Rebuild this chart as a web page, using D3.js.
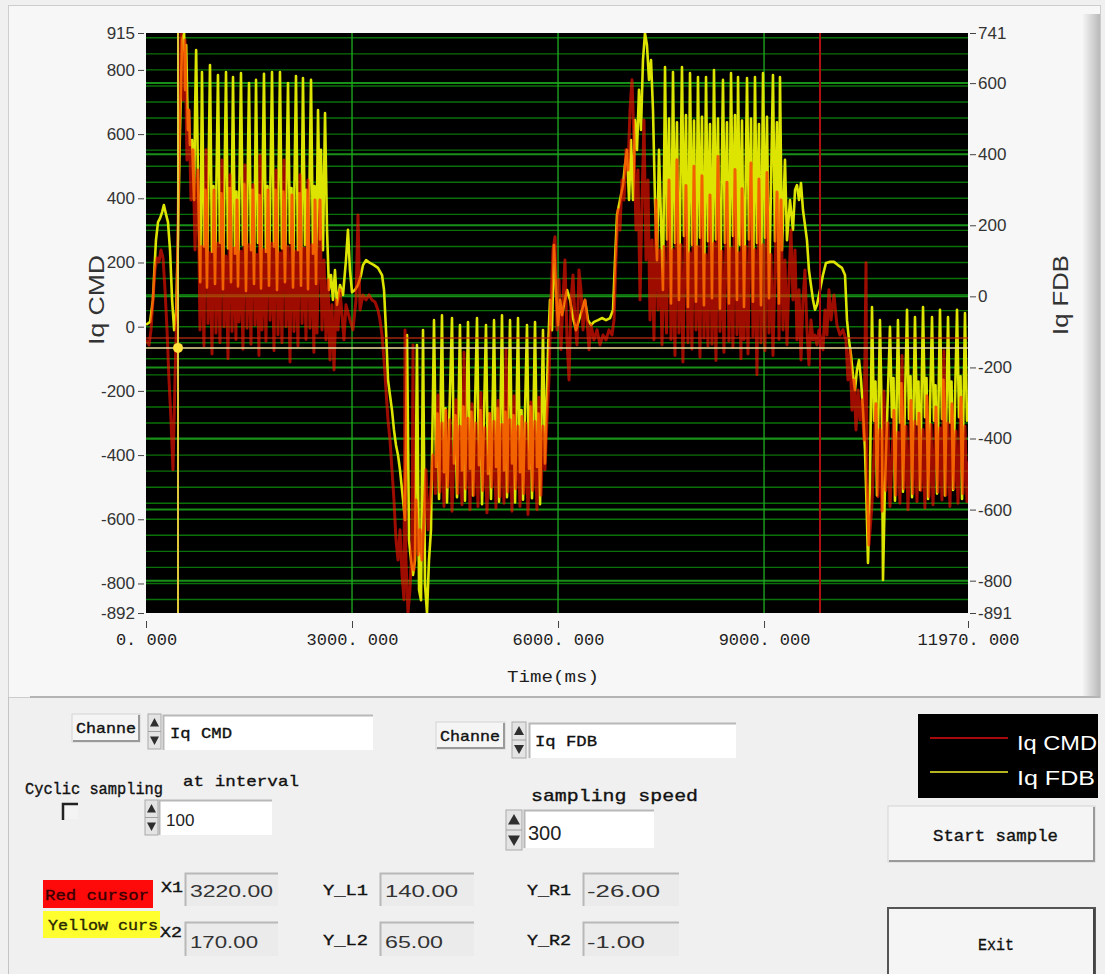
<!DOCTYPE html>
<html>
<head>
<meta charset="utf-8">
<script src="https://cdn.jsdelivr.net/npm/d3@7"></script>
<style>
body { margin: 0; background: #f0f0f0; }
svg { display: block; }
</style>
</head>
<body>
<svg id="plot" width="1105" height="974"></svg>
<script>
// ---- data ----
let leftTicks = [915, 800, 600, 400, 200, 0, -200, -400, -600, -800, -892];
let rightTicks = [741, 600, 400, 200, 0, -200, -400, -600, -800, -891];
let timeTicks = [0, 3000, 6000, 9000, 11970];
let seriesNames = ["Iq CMD", "Iq FDB"];

// [time ms, value] Iq CMD on left axis
let iqCmd = [
[0,-41],[44,-57],[73,-10],[102,83],[131,177],[160,214],[189,202],[218,239],[248,214],[277,115],[306,-10],[335,-166],[364,-291],[393,-446],[422,-166],[451,83],[480,551],[510,915],[539,706],[568,893],[597,519],[626,675],[655,395],[684,551],[714,239],[743,457],
[757,488],[786,-10],[815,250],[844,-60],[874,551],[903,10],[932,230],[961,-85],[990,426],[1019,-20],[1048,260],[1077,-50],[1107,519],[1136,0],[1165,220],[1194,-100],[1223,473],[1252,-15],[1281,245],[1310,-40],[1325,395],[1354,15],[1383,235],[1412,-70],[1442,504],[1471,-5],[1500,255],[1529,-55],[1558,442],[1587,5],[1616,225],[1645,-90],[1660,535],[1689,-10],[1718,240],[1747,-45],[1777,426],[1806,20],[1835,260],[1864,-75],[1893,488],[1922,-25],[1951,230],[1980,-50],[2010,519],[2039,0],[2068,250],[2097,-110],[2126,410],[2155,-15],[2184,235],[2213,-60],[2243,473],[2272,10],[2301,245],[2330,-40],[2358,457],[2387,-5],[2416,255],[2445,-80],[2461,395],[2490,-20],[2519,260],
[2534,395],[2563,-10],[2592,208],[2621,-41],[2650,146],[2679,-104],[2708,68],[2738,-135],[2767,83],[2796,-10],[2825,115],[2854,37],[2883,-41],[2912,68],[2970,21],[3014,-10],[3058,83],[3087,348],[3116,52],[3160,99],[3204,83],[3247,99],[3291,83],[3335,77],[3378,52],[3407,21],[3437,-26],[3466,-104],[3495,-197],[3524,-291],[3553,-353],[3582,-446],[3611,-540],[3640,-664],[3670,-727],[3699,-633],[3728,-773],[3757,-851],[3772,-10],[3786,-727],[3815,-892],[3844,-820],[3874,-664],[3888,-57],[3903,-758],[3932,-540],[3961,-711],[3990,-633],[4019,-727],[4048,-602],[4077,-446],[4107,-633],[4136,-540],[4180,-400],[4215,-520],
[4252,-213],[4281,-515],[4310,-300],[4339,-560],[4369,-260],[4398,-500],[4427,-290],[4456,-575],[4514,-228],[4543,-520],[4572,-310],[4601,-555],[4631,-80],[4660,-505],[4689,-285],[4718,-570],[4747,-240],[4776,-525],[4805,-300],[4834,-560],[4878,-205],[4907,-510],[4936,-315],[4965,-580],[5009,-270],[5038,-500],[5067,-295],[5096,-565],[5126,-230],[5155,-530],[5184,-305],[5213,-550],[5242,-70],[5271,-515],[5300,-290],[5329,-575],[5359,-215],[5388,-505],[5417,-310],[5446,-560],[5475,-280],[5504,-520],[5533,-300],[5562,-585],[5606,-235],[5635,-510],[5664,-295],[5693,-570],[5723,-220],[5752,-525],[5781,-310],[5810,-446],
[5839,-291],[5868,-166],[5897,83],[5927,239],[5956,280],[5985,-10],[6014,146],[6043,-72],[6072,83],[6101,208],[6131,-41],[6160,-166],[6189,83],[6218,161],[6247,21],[6276,-57],[6305,177],[6334,115],[6364,-10],[6393,83],[6422,21],[6451,-72],[6480,5],[6524,-41],[6568,-10],[6611,-57],[6655,-26],[6699,-41],[6742,-10],[6786,-26],[6815,21],[6844,208],[6873,364],[6902,301],[6931,457],[6961,395],[6990,551],[7019,488],[7048,675],[7077,769],[7106,582],[7135,301],[7164,488],[7194,83],
[7223,395],[7252,644],[7281,208],[7310,457],[7339,21],[7368,270],[7397,-41],[7426,395],[7456,52],[7485,239],[7514,-57],[7545,250],[7580,-20],
[7616,457],[7645,-40],[7674,240],[7703,-90],[7732,520],[7761,-20],[7790,255],[7819,-110],[7863,440],[7892,-50],[7921,230],[7950,-70],[7980,500],[8009,-10],[8038,250],[8067,-95],[8096,470],[8125,-35],[8154,225],[8183,-60],[8213,410],[8242,-55],[8271,260],[8300,-105],[8329,530],[8358,-15],[8387,235],[8416,-80],[8460,450],[8489,-45],[8518,245],[8547,-65],[8577,490],[8606,-25],[8635,230],[8664,-100],[8679,430],[8708,-40],[8737,250],[8766,-85],[8810,510],[8839,-30],[8868,240],[8897,-150],[8926,460],[8955,-50],[8984,255],[9013,-75],[9043,480],[9072,-20],[9101,225],[9130,-90],[9189,420],[9218,-40],
[9247,395],[9276,-10],[9305,208],[9334,-57],[9363,146],[9392,301],[9421,83],[9451,239],[9480,-41],[9509,115],[9538,-104],[9567,83],[9596,177],[9625,-10],[9654,-119],[9683,21],[9713,-41],[9742,-26],[9771,-57],[9800,-10],[9829,-41],[9858,-72],[9887,52],[9916,-26],[9945,115],[9975,21],[10018,99],[10062,5],[10106,-26],[10149,-10],[10193,-41],[10222,-166],[10251,-72],[10281,-260],[10310,-166],[10339,-322],[10368,-197],[10397,-291],[10426,-228],[10455,-353],[10485,199],[10499,-477],[10528,-680],[10570,-560],[10600,-400],
[10630,-240],[10659,-530],[10688,-320],[10717,-575],[10747,-200],[10776,-510],[10805,-300],[10834,-560],[10892,-260],[10921,-525],[10950,-330],[10979,-550],[11009,-90],[11038,-505],[11067,-310],[11096,-570],[11140,-230],[11169,-520],[11198,-295],[11227,-545],[11256,-270],[11285,-510],[11314,-320],[11343,-565],[11373,-215],[11402,-530],[11431,-305],[11460,-555],[11504,-250],[11533,-515],[11562,-315],[11591,-540],[11620,-75],[11649,-525],[11678,-300],[11707,-560],[11737,-240],[11766,-505],[11795,-325],[11824,-550],[11868,-220],[11897,-520],[11926,-310],[11955,-545],[11970,-420]
];

// [time ms, value] Iq FDB on right axis
let iqFdb = [
[0,-80],[60,-72],[100,-10],[145,158],[175,209],[205,220],[235,237],[260,257],[290,232],[320,209],[350,130],[380,-10],[410,-95],[440,-38],[465,158],[495,468],[525,721],[555,741],[570,581],[585,707],[610,468],[625,524],[640,426],[670,440],[700,271],[715,524],[730,693],[760,300],[790,40],
[815,631],[845,140],[866,300],[888,25],[932,651],[961,125],[983,310],[1005,35],[1048,623],[1077,150],[1099,290],[1121,20],[1165,631],[1194,135],[1216,305],[1238,40],[1267,617],[1296,120],[1318,295],[1340,28],[1383,628],[1412,145],[1434,315],[1456,15],[1500,600],[1529,130],[1551,300],[1573,35],[1602,609],[1631,150],[1653,285],[1675,22],[1718,626],[1747,125],[1769,310],[1791,30],[1835,631],[1864,140],[1886,300],[1908,18],[1951,631],[1980,135],[2002,295],[2024,40],[2068,600],[2097,150],[2119,305],[2141,25],[2184,620],[2213,130],[2235,290],[2257,30],[2286,614],[2315,145],[2337,300],[2359,20],[2403,609],[2432,120],[2454,310],[2476,35],[2505,524],[2534,160],
[2548,412],[2577,130],[2607,516],[2636,187],[2665,18],[2694,60],[2723,-10],[2752,74],[2781,-24],[2825,32],[2869,4],[2912,102],[2941,187],[2970,74],[3000,12],[3043,18],[3087,32],[3131,60],[3160,88],[3204,102],[3262,94],[3320,88],[3378,80],[3437,60],[3466,18],[3495,-95],[3524,-235],[3553,-278],[3582,-320],[3611,-376],[3640,-418],[3670,-447],[3699,-489],[3743,-573],[3772,-629],[3801,-109],[3830,-686],[3859,-742],[3888,-784],[3917,-742],[3946,-137],[3976,-826],[4005,-855],[4034,-95],[4063,-812],[4092,-891],[4121,-742],[4150,-657],
[4194,-67],[4223,-480],[4245,-330],[4267,-570],[4310,-53],[4339,-495],[4361,-315],[4383,-580],[4456,-61],[4485,-470],[4507,-335],[4529,-565],[4572,-81],[4601,-490],[4623,-310],[4645,-575],[4689,-72],[4718,-485],[4740,-325],[4762,-560],[4820,-61],[4849,-475],[4871,-320],[4893,-585],[4951,-81],[4980,-500],[5002,-330],[5024,-570],[5068,-67],[5097,-480],[5119,-315],[5141,-578],[5184,-53],[5213,-490],[5235,-325],[5257,-565],[5301,-67],[5330,-470],[5352,-335],[5374,-580],[5417,-61],[5446,-495],[5468,-320],[5490,-572],[5548,-81],[5577,-485],[5599,-310],[5621,-568],[5665,-72],[5694,-480],[5716,-330],[5738,-585],[5781,-95],[5810,-470],
[5854,-151],[5883,-10],[5912,-95],[5941,144],[5970,18],[6000,-81],[6029,-10],[6058,-53],[6087,-24],[6131,18],[6175,-10],[6218,-61],[6262,-95],[6305,-67],[6349,-38],[6393,-10],[6437,-67],[6480,-81],[6524,-72],[6582,-67],[6640,-61],[6699,-67],[6757,-61],[6801,-38],[6830,102],[6859,229],[6888,257],[6917,285],[6946,313],[6975,370],[7004,412],[7034,271],[7063,440],[7092,271],[7121,496],
[7150,412],[7179,581],[7208,468],[7237,665],[7266,741],[7295,707],[7325,609],[7354,665],[7383,524],[7412,271],[7441,102],[7470,412],[7499,215],[7528,18],
[7558,645],[7587,160],[7616,500],[7645,-20],[7674,631],[7703,150],[7732,490],[7761,-10],[7805,645],[7834,170],[7863,510],[7892,-30],[7922,628],[7951,145],[7980,495],[8009,-15],[8038,617],[8067,165],[8096,505],[8125,-25],[8155,617],[8184,155],[8213,485],[8242,-5],[8271,637],[8300,160],[8329,500],[8358,-35],[8402,609],[8431,150],[8460,490],[8489,-20],[8519,628],[8548,170],[8577,510],[8606,-10],[8621,617],[8650,145],[8679,495],[8708,-30],[8752,614],[8781,160],[8810,500],[8839,-15],[8868,617],[8897,150],[8926,485],[8955,-25],[8985,628],[9014,165],[9043,505],[9072,-5],[9130,623],[9159,155],[9188,490],[9217,-20],[9232,617],[9261,130],
[9305,384],[9334,158],[9378,271],[9421,187],[9451,299],[9480,313],[9509,271],[9538,319],[9567,243],[9596,201],[9625,158],[9654,74],[9683,32],[9713,-10],[9742,-38],[9771,-24],[9815,18],[9858,60],[9902,94],[9960,97],[10018,97],[10076,88],[10135,80],[10179,60],[10208,-67],[10237,-123],[10266,-165],[10295,-221],[10324,-264],[10353,-207],[10383,-179],[10412,-235],[10441,-320],[10470,-432],[10499,-629],[10514,-750],[10543,-517],
[10572,-30],[10601,-350],[10623,-240],[10645,-560],[10688,-67],[10717,-360],[10732,-798],[10760,-540],[10834,-86],[10863,-340],[10885,-230],[10907,-575],[10950,-67],[10979,-355],[11001,-245],[11023,-550],[11082,-38],[11111,-345],[11133,-225],[11155,-565],[11198,-58],[11227,-360],[11249,-240],[11271,-545],[11315,-30],[11344,-340],[11366,-230],[11388,-570],[11446,-58],[11475,-350],[11497,-250],[11519,-555],[11562,-38],[11591,-345],[11613,-235],[11635,-560],[11679,-58],[11708,-355],[11730,-240],[11752,-545],[11810,-38],[11839,-340],[11861,-225],[11883,-570],[11926,-47],[11955,-350],[11970,-300]
];

// cursors: [time ms, left-axis value]
let redCursor = [9815, -35];
let yellowCursor = [466, -66];

// readout panel values
let channelNames = ["Iq CMD", "Iq FDB"];
let intervalValue = "100";
let speedValue = "300";
let xReadouts = ["3220.00", "170.00"];
let yLeftReadouts = ["140.00", "65.00"];
let yRightReadouts = ["-26.00", "-1.00"];

let svg = d3.select("#plot");

let plot_left = 146, plot_right = 968, plot_top = 33, plot_bottom = 613;
let mono = "Liberation Mono, DejaVu Sans Mono, monospace";
let sans = "Liberation Sans, Arial, sans-serif";

let x_scale = d3.scaleLinear([0, 11970], [plot_left, plot_right]);
let yl_scale = d3.scaleLinear([-892, 915], [plot_bottom, plot_top]);
let yr_scale = d3.scaleLinear([-891, 741], [plot_bottom, plot_top]);

let defs = svg.append("defs");
defs.append("clipPath").attr("id", "clip")
  .append("rect")
  .attr("x", plot_left).attr("y", plot_top)
  .attr("width", plot_right - plot_left).attr("height", plot_bottom - plot_top);

let shade = defs.append("linearGradient").attr("id", "shade").attr("x1", 0).attr("x2", 1).attr("y1", 0).attr("y2", 0);
shade.append("stop").attr("offset", "0%").attr("stop-color", "#f7f7f7");
shade.append("stop").attr("offset", "100%").attr("stop-color", "#b9b9b9");

/*--------------- graph panel -------------- */
svg.append("rect").attr("width", 1105).attr("height", 974).attr("fill", "#f0f0f0");
svg.append("rect")
  .attr("x", 8.5).attr("y", 5.5).attr("width", 1092).attr("height", 692)
  .attr("fill", "#f7f7f7").attr("stroke", "#cdcdcd");
svg.append("rect")
  .attr("x", 1082).attr("y", 14).attr("width", 18).attr("height", 684)
  .attr("fill", "url(#shade)");
svg.append("line")
  .attr("x1", 30).attr("x2", 1100).attr("y1", 697).attr("y2", 697)
  .attr("stroke", "#b4b4b4").attr("stroke-width", 2);
svg.append("line")
  .attr("x1", 8.5).attr("x2", 8.5).attr("y1", 697).attr("y2", 974)
  .attr("stroke", "#c4c4c4");

svg.append("rect")
  .attr("x", plot_left).attr("y", plot_top)
  .attr("width", plot_right - plot_left).attr("height", plot_bottom - plot_top)
  .attr("fill", "#000");

let gGrid = svg.append("g").attr("clip-path", "url(#clip)");

gGrid.selectAll(".gl")
  .data(d3.range(-850, 915, 50))
  .join("line")
  .attr("x1", plot_left).attr("x2", plot_right)
  .attr("y1", d => yl_scale(d)).attr("y2", d => yl_scale(d))
  .attr("stroke", "#0a700a").attr("stroke-width", 1.4);

gGrid.selectAll(".gr")
  .data(rightTicks.slice(1, -1))
  .join("line")
  .attr("x1", plot_left).attr("x2", plot_right)
  .attr("y1", d => yr_scale(d)).attr("y2", d => yr_scale(d))
  .attr("stroke", "#189018").attr("stroke-width", 2);

gGrid.selectAll(".gx")
  .data(timeTicks.slice(1, -1))
  .join("line")
  .attr("x1", d => x_scale(d)).attr("x2", d => x_scale(d))
  .attr("y1", plot_top).attr("y2", plot_bottom)
  .attr("stroke", "#1fae1f").attr("stroke-width", 1.3);

/*--------------- traces -------------- */
let gDot = svg.append("g").attr("clip-path", "url(#clip)");

let cmdLine = d3.line().x(d => x_scale(d[0])).y(d => yl_scale(d[1]));
let fdbLine = d3.line().x(d => x_scale(d[0])).y(d => yr_scale(d[1]));

// FDB underneath, CMD translucent on top: overlap reads as orange
gDot.append("path")
  .attr("d", fdbLine(iqFdb))
  .attr("fill", "none").attr("stroke", "#dce400").attr("stroke-width", 2.6)
  .attr("stroke-linejoin", "round");

gDot.append("path")
  .attr("d", cmdLine(iqCmd))
  .attr("fill", "none").attr("stroke", "#ff1400").attr("stroke-width", 3)
  .attr("stroke-opacity", 0.62).attr("stroke-linejoin", "round");

// cursors
gDot.append("line")
  .attr("x1", plot_left).attr("x2", plot_right)
  .attr("y1", yl_scale(redCursor[1])).attr("y2", yl_scale(redCursor[1]))
  .attr("stroke", "#c83010").attr("stroke-width", 1.5).attr("opacity", 0.8);
gDot.append("line")
  .attr("x1", x_scale(redCursor[0])).attr("x2", x_scale(redCursor[0]))
  .attr("y1", plot_top).attr("y2", plot_bottom)
  .attr("stroke", "#b01010").attr("stroke-width", 2);

gDot.append("line")
  .attr("x1", plot_left).attr("x2", plot_right)
  .attr("y1", yl_scale(yellowCursor[1])).attr("y2", yl_scale(yellowCursor[1]))
  .attr("stroke", "#e8e09a").attr("stroke-width", 1.5);
gDot.append("line")
  .attr("x1", x_scale(yellowCursor[0])).attr("x2", x_scale(yellowCursor[0]))
  .attr("y1", plot_top).attr("y2", plot_bottom)
  .attr("stroke", "#e0c83a").attr("stroke-width", 2);
gDot.append("circle")
  .attr("cx", x_scale(yellowCursor[0])).attr("cy", yl_scale(yellowCursor[1]))
  .attr("r", 5).attr("fill", "#ffe23a");

/*--------------- axes -------------- */
function styleAxis(g, size) {
  g.select(".domain").remove();
  g.selectAll("line").attr("stroke", "#444");
  g.selectAll("text").attr("fill", "#333").attr("font-size", size);
  g.attr("font-family", sans);
}

let gy = svg.append("g")
  .attr("transform", `translate(${plot_left - 2},0)`)
  .call(d3.axisLeft(yl_scale).tickValues(leftTicks).tickSize(6).tickPadding(3).tickFormat(d => String(d)));
styleAxis(gy, 17);

let gy2 = svg.append("g")
  .attr("transform", `translate(${plot_right + 2},0)`)
  .call(d3.axisRight(yr_scale).tickValues(rightTicks).tickSize(6).tickPadding(2).tickFormat(d => String(d)));
styleAxis(gy2, 17);

let gx = svg.append("g")
  .attr("transform", `translate(0,${plot_bottom + 8})`)
  .call(d3.axisBottom(x_scale).tickValues(timeTicks).tickSize(7).tickPadding(5)
    .tickFormat(d => d3.format(".3f")(d).replace(".", ". ")));
styleAxis(gx, 17);
gx.attr("font-family", mono);
gx.selectAll("text").attr("fill", "#222");

svg.append("text")
  .attr("text-anchor", "middle")
  .attr("x", 553).attr("y", 682)
  .attr("font-family", mono).attr("font-size", 17).attr("fill", "#1e1e1e")
  .attr("textLength", 92).attr("lengthAdjust", "spacingAndGlyphs")
  .text("Time(ms)");

svg.append("text")
  .attr("text-anchor", "middle")
  .attr("transform", `translate(104,300) rotate(-90)`)
  .attr("font-family", sans).attr("font-size", 22).attr("fill", "#333")
  .attr("textLength", 90).attr("lengthAdjust", "spacingAndGlyphs")
  .text(seriesNames[0]);

svg.append("text")
  .attr("text-anchor", "middle")
  .attr("transform", `translate(1068,295) rotate(-90)`)
  .attr("font-family", sans).attr("font-size", 22).attr("fill", "#333")
  .attr("textLength", 80).attr("lengthAdjust", "spacingAndGlyphs")
  .text(seriesNames[1]);

/*--------------- controls -------------- */
function label(txt, x, y, len, size, font, color) {
  let t = svg.append("text")
    .attr("x", x).attr("y", y)
    .attr("font-family", font || mono).attr("font-size", size || 15)
    .attr("fill", color || "#111")
    .text(txt);
  if (!font) t.attr("stroke", color || "#111").attr("stroke-width", 0.35);
  if (len) t.attr("textLength", len).attr("lengthAdjust", "spacingAndGlyphs");
  return t;
}

function field(x, y, w, h, fill) {
  svg.append("rect").attr("x", x).attr("y", y).attr("width", w).attr("height", h).attr("fill", fill);
  svg.append("path")
    .attr("d", `M${x + 0.5},${y + h} V${y + 0.5} H${x + w}`)
    .attr("fill", "none").attr("stroke", "#b8b8b8").attr("stroke-width", 2);
}

function spinner(x, y, w, h) {
  svg.append("rect").attr("x", x).attr("y", y).attr("width", w).attr("height", h)
    .attr("fill", "#e4e4e4").attr("stroke", "#a9a9a9");
  let m = x + w / 2;
  svg.append("path")
    .attr("d", `M${x + 2},${y + h * 0.36} L${m},${y + 4} L${x + w - 2},${y + h * 0.36} Z`)
    .attr("fill", "#2e2e2e");
  svg.append("path")
    .attr("d", `M${x + 2},${y + h * 0.64} L${m},${y + h - 4} L${x + w - 2},${y + h * 0.64} Z`)
    .attr("fill", "#2e2e2e");
  svg.append("line").attr("x1", x).attr("x2", x + w).attr("y1", y + h / 2).attr("y2", y + h / 2)
    .attr("stroke", "#a0a0a0");
}

function button(x, y, w, h, dark) {
  svg.append("rect").attr("x", x).attr("y", y).attr("width", w).attr("height", h)
    .attr("fill", "#f5f5f5").attr("stroke", dark ? "#555" : "#d4d4d4").attr("stroke-width", dark ? 2 : 1);
  svg.append("path")
    .attr("d", `M${x + 1},${y + h - 1} H${x + w - 1} V${y + 1}`)
    .attr("fill", "none").attr("stroke", dark ? "#444" : "#9a9a9a").attr("stroke-width", 2);
}

// channel selectors
button(72, 714, 68, 28);
label("Channe", 76, 733, 60, 15);
spinner(148, 714, 13, 35);
field(163, 715, 210, 35, "#ffffff");
label(channelNames[0], 170, 738, 62, 15);

button(436, 722, 69, 27);
label("Channe", 440, 741, 60, 15);
spinner(512, 722, 14, 36);
field(529, 723, 207, 35, "#ffffff");
label(channelNames[1], 535, 746, 62, 15);

// cyclic sampling
label("Cyclic sampling", 25, 794, 138, 16);
label("at interval", 183, 786, 116, 15);
svg.append("rect").attr("x", 62).attr("y", 803).attr("width", 16).attr("height", 16).attr("fill", "#f4f4f4");
svg.append("path").attr("d", "M63,820 V804 H78").attr("fill", "none").attr("stroke", "#222").attr("stroke-width", 2.5);
spinner(145, 800, 13, 35);
field(159, 800, 113, 35, "#ffffff");
label(intervalValue, 166, 826, null, 17, sans, "#222");

// sampling speed
label("sampling speed", 531, 801, 167, 17);
spinner(506, 810, 16, 40);
field(524, 810, 130, 38, "#ffffff");
label(speedValue, 528, 840, null, 20, sans, "#222");

// legend
svg.append("rect").attr("x", 918).attr("y", 714).attr("width", 180).attr("height", 84).attr("fill", "#000");
svg.append("line").attr("x1", 930).attr("x2", 1008).attr("y1", 738).attr("y2", 738)
  .attr("stroke", "#a80a0a").attr("stroke-width", 2);
svg.append("line").attr("x1", 930).attr("x2", 1008).attr("y1", 772).attr("y2", 772)
  .attr("stroke", "#b4b422").attr("stroke-width", 2);
label(seriesNames[0], 1017, 750, 80, 20, sans, "#fff");
label(seriesNames[1], 1017, 785, 78, 20, sans, "#fff");

// buttons
button(888, 806, 207, 56);
label("Start sample", 933, 841, 125, 16);
button(888, 908, 207, 70, true);
label("Exit", 978, 950, 36, 17);

// cursor readouts
svg.append("rect").attr("x", 43).attr("y", 880).attr("width", 110).attr("height", 28).attr("fill", "#ff0a0a");
label("Red cursor", 45, 900, 104, 14, null, "#3a0000");
svg.append("rect").attr("x", 43).attr("y", 911).attr("width", 117).attr("height", 27).attr("fill", "#ffff30");
label("Yellow curs", 48, 930, 110, 14, null, "#2a2a00");
label("X1", 161, 892, 22, 14);
label("X2", 160, 937, 22, 14);

field(185, 873, 93, 33, "#ebebeb");
field(185, 922, 93, 34, "#ebebeb");
label(xReadouts[0], 190, 897, 83, 17, sans, "#333");
label(xReadouts[1], 190, 948, 68, 17, sans, "#333");

label("Y_L1", 323, 895, 45, 15);
label("Y_L2", 323, 945, 45, 15);
field(380, 873, 94, 33, "#ebebeb");
field(380, 922, 94, 34, "#ebebeb");
label(yLeftReadouts[0], 385, 897, 73, 17, sans, "#333");
label(yLeftReadouts[1], 385, 948, 58, 17, sans, "#333");

label("Y_R1", 527, 895, 44, 15);
label("Y_R2", 527, 945, 44, 15);
field(583, 873, 96, 33, "#ebebeb");
field(583, 922, 96, 34, "#ebebeb");
label(yRightReadouts[0], 587, 897, 73, 17, sans, "#333");
label(yRightReadouts[1], 587, 948, 58, 17, sans, "#333");
</script>
</body>
</html>
